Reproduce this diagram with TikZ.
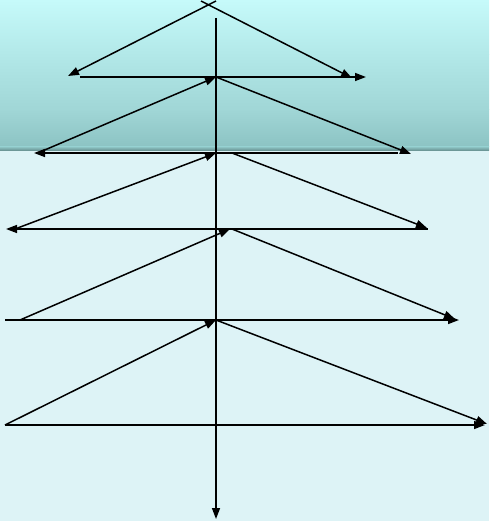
\documentclass[tikz,border=0pt]{standalone}
\usetikzlibrary{arrows.meta}
\definecolor{skytop}{HTML}{C6FAFA}
\definecolor{skymid}{HTML}{B2E8E8}
\definecolor{bandmid}{HTML}{A0D6D6}
\definecolor{bandlow}{HTML}{8CC3C3}
\definecolor{ground}{HTML}{DDF3F6}
\tikzset{
  arr/.style={line width=1.5pt, -{Triangle[length=11pt,width=8pt]}},
  plain/.style={line width=1.5pt}
}
\begin{document}
\begin{tikzpicture}[x=1pt,y=-1pt]
\useasboundingbox (0,0) rectangle (489,521);
% background
\fill[top color=skytop, bottom color=skymid] (0,0) rectangle (489,55);
\fill[top color=skymid, bottom color=bandmid] (0,55) rectangle (489,110);
\fill[top color=bandmid, bottom color=bandlow] (0,110) rectangle (489,147);
\fill[top color=bandlow, bottom color=bandlow!70!black] (0,147) rectangle (489,151);
\fill[ground] (0,151) rectangle (489,521);
% points
\coordinate (tl) at (216,1);
\coordinate (tr) at (201,1);
\coordinate (l1) at (68,76);
\coordinate (r1) at (352,78);
\coordinate (h1s) at (80,77);
\coordinate (h1e) at (366,77);
\coordinate (c1) at (216,77);
\coordinate (l2) at (40,152);
\coordinate (r2) at (411,154);
\coordinate (h2s) at (398,153);
\coordinate (h2e) at (34,153);
\coordinate (c2) at (216,153);
\coordinate (c2r) at (232,153);
\coordinate (l3) at (15,229);
\coordinate (r3) at (427,228);
\coordinate (h3s) at (428,229);
\coordinate (h3e) at (6,229);
\coordinate (c3) at (230,229);
\coordinate (c3r) at (232,229);
\coordinate (l4) at (20,320);
\coordinate (r4) at (455,319);
\coordinate (h4s) at (5,320);
\coordinate (h4e) at (459,320);
\coordinate (c4) at (216,320);
\coordinate (l5) at (5,425);
\coordinate (r5) at (487,424);
\coordinate (h5e) at (485,425);
\coordinate (vtop) at (216,18);
\coordinate (vbot) at (216,519);
% stem
\draw[arr] (vtop) -- (vbot);
% tier 1
\draw[arr] (tl) -- (l1);
\draw[arr] (tr) -- (r1);
\draw[arr] (h1s) -- (h1e);
% tier 2
\draw[arr] (l2) -- (c1);
\draw[arr] (c1) -- (r2);
\draw[arr] (h2s) -- (h2e);
% tier 3
\draw[arr] (l3) -- (c2);
\draw[arr] (c2r) -- (r3);
\draw[arr] (h3s) -- (h3e);
% tier 4
\draw[arr] (l4) -- (c3);
\draw[arr] (c3r) -- (r4);
\draw[arr] (h4s) -- (h4e);
% tier 5
\draw[arr] (l5) -- (c4);
\draw[arr] (c4) -- (r5);
\draw[arr] (l5) -- (h5e);
\end{tikzpicture}
\end{document}
